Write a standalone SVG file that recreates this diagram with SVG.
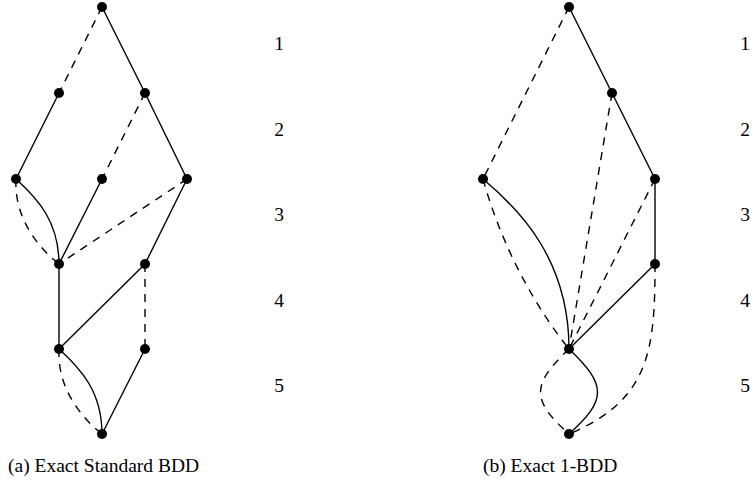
<svg xmlns="http://www.w3.org/2000/svg" width="756" height="503" viewBox="0 0 756 503">
<style>
.e{fill:none;stroke:#000;stroke-width:1.4}
.d{fill:none;stroke:#000;stroke-width:1.4;stroke-dasharray:8 7}
.n{fill:#000}
.t{font-family:"Liberation Serif","DejaVu Serif",serif;font-size:19.5px;fill:#000}
</style>
<rect width="756" height="503" fill="#fff"/>
<g id="connectors">
<line class="d" x1="102" y1="7" x2="59" y2="93"/>
<line class="e" x1="102" y1="7" x2="145" y2="93"/>
<line class="e" x1="59" y1="93" x2="16" y2="179"/>
<line class="d" x1="145" y1="93" x2="102" y2="179"/>
<line class="e" x1="145" y1="93" x2="187" y2="179"/>
<path class="e" d="M16,179 C38,199 59,222 59,264"/>
<path class="d" d="M16,179 C14,215 35,245 59,264"/>
<line class="e" x1="102" y1="179" x2="59" y2="264"/>
<line class="d" x1="187" y1="179" x2="59" y2="264"/>
<line class="e" x1="187" y1="179" x2="145" y2="264"/>
<line class="e" x1="59" y1="264" x2="59" y2="349"/>
<line class="e" x1="145" y1="264" x2="59" y2="349"/>
<line class="d" x1="145" y1="264" x2="145" y2="349"/>
<path class="e" d="M59,349 C81,369 102,392 102,434"/>
<path class="d" d="M59,349 C57,385 78,415 102,434"/>
<line class="e" x1="145" y1="349" x2="102" y2="434"/>
<line class="d" x1="569" y1="7" x2="483" y2="179"/>
<line class="e" x1="569" y1="7" x2="612" y2="93"/>
<line class="d" x1="612" y1="93" x2="569" y2="349"/>
<line class="e" x1="612" y1="93" x2="655" y2="179"/>
<path class="e" d="M483,179 C520,210 569,260 569,349"/>
<path class="d" d="M483,179 C500,240 530,300 569,349"/>
<line class="e" x1="655" y1="179" x2="655" y2="264"/>
<line class="d" x1="655" y1="179" x2="569" y2="349"/>
<line class="e" x1="655" y1="264" x2="569" y2="349"/>
<path class="d" d="M655,264 C655,350 650,400 569,434"/>
<path class="e" d="M569,349 C607,385 607,400 569,434"/>
<path class="d" d="M569,349 C531,385 531,400 569,434"/>
</g>
<g id="a-n1"><circle class="n" cx="102" cy="7" r="5"/></g>
<g id="a-n2"><circle class="n" cx="59" cy="93" r="5"/></g>
<g id="a-n3"><circle class="n" cx="145" cy="93" r="5"/></g>
<g id="a-n4"><circle class="n" cx="16" cy="179" r="5"/></g>
<g id="a-n5"><circle class="n" cx="102" cy="179" r="5"/></g>
<g id="a-n6"><circle class="n" cx="187" cy="179" r="5"/></g>
<g id="a-n7"><circle class="n" cx="59" cy="264" r="5"/></g>
<g id="a-n8"><circle class="n" cx="145" cy="264" r="5"/></g>
<g id="a-n9"><circle class="n" cx="59" cy="349" r="5"/></g>
<g id="a-n10"><circle class="n" cx="145" cy="349" r="5"/></g>
<g id="a-n11"><circle class="n" cx="102" cy="434" r="5"/></g>
<g id="b-n1"><circle class="n" cx="569" cy="7" r="5"/></g>
<g id="b-n2"><circle class="n" cx="612" cy="93" r="5"/></g>
<g id="b-n3"><circle class="n" cx="483" cy="179" r="5"/></g>
<g id="b-n4"><circle class="n" cx="655" cy="179" r="5"/></g>
<g id="b-n5"><circle class="n" cx="655" cy="264" r="5"/></g>
<g id="b-n6"><circle class="n" cx="569" cy="349" r="5"/></g>
<g id="b-n7"><circle class="n" cx="569" cy="434" r="5"/></g>
<g id="labels" class="t" text-anchor="middle">
<text x="279" y="50">1</text>
<text x="279" y="136">2</text>
<text x="279" y="221">3</text>
<text x="279" y="307">4</text>
<text x="279" y="392">5</text>
<text x="745" y="50">1</text>
<text x="745" y="136">2</text>
<text x="745" y="221">3</text>
<text x="745" y="307">4</text>
<text x="745" y="392">5</text>
</g>
<g id="captions" class="t">
<text x="8" y="472">(a) Exact Standard BDD</text>
<text x="483" y="472">(b) Exact 1-BDD</text>
</g>
</svg>
